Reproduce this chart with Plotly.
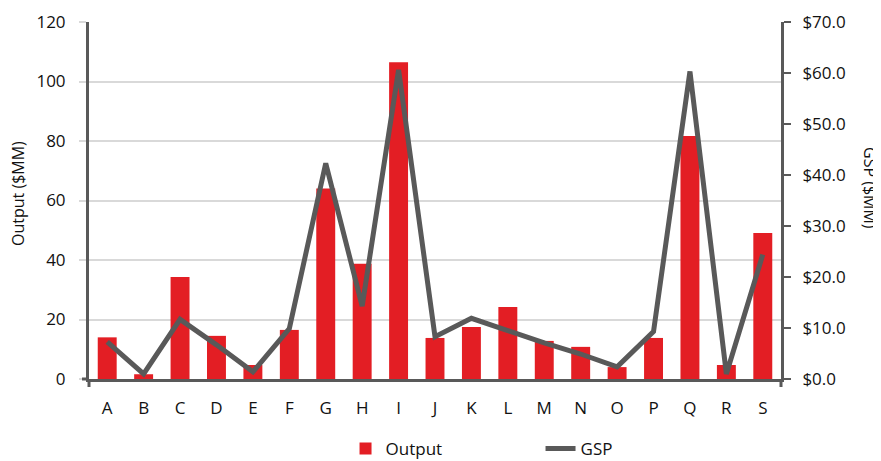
import plotly.graph_objects as go

categories = ["A","B","C","D","E","F","G","H","I","J","K","L","M","N","O","P","Q","R","S"]
output_vals = [14.0, 1.6, 34.3, 14.5, 4.7, 16.5, 64.0, 38.7, 106.5, 13.8, 17.5, 24.2, 12.8, 10.8, 4.0, 13.8, 81.7, 4.7, 49.1]
gsp_vals = [7.3, 1.0, 11.7, 6.7, 1.4, 9.9, 42.3, 14.3, 60.6, 8.3, 11.9, 9.4, 7.1, 4.9, 2.4, 9.3, 60.3, 1.0, 24.4]
left_ticks = [0, 20, 40, 60, 80, 100, 120]
right_ticks = [0, 10, 20, 30, 40, 50, 60, 70]
right_tick_text = ["$%.1f" % v for v in right_ticks]

RED = "#E31E24"
DARK = "#595959"
GRID = "#D9D9D9"
FONT = "Open Sans"
FS = 17

# page body has an 8px margin, so the figure is sized to fit the window
W, H = 873, 453

fig = go.Figure()
fig.add_trace(go.Bar(x=categories, y=output_vals, name="Output", marker_color=RED,
                     marker_line_width=0, yaxis="y"))
fig.add_trace(go.Scatter(x=categories, y=gsp_vals, name="GSP", mode="lines",
                         line=dict(color=DARK, width=5), yaxis="y2"))

fig.update_layout(
    width=W, height=H,
    margin=dict(l=81, r=100, t=14, b=82, autoexpand=False),
    plot_bgcolor="white", paper_bgcolor="white",
    font=dict(family=FONT, size=FS, color="#111111"),
    bargap=0.48,
    showlegend=True,
    legend=dict(orientation="h", x=0.61, xanchor="center", xref="container",
                y=1 - 441 / H, yanchor="middle", yref="container",
                entrywidth=150, font=dict(size=FS, family=FONT)),
    xaxis=dict(type="category", showline=True, linecolor=DARK, linewidth=3,
               ticks="outside", ticklen=12, tickcolor="rgba(0,0,0,0)",
               showgrid=False, tickfont=dict(size=FS)),
    yaxis=dict(range=[0, 120], tickvals=left_ticks, showline=True, linecolor=DARK,
               linewidth=3, showgrid=True, gridcolor=GRID, gridwidth=2,
               ticks="outside", ticklen=7, tickcolor=GRID, tickwidth=2,
               ticklabelstandoff=10, zeroline=False, tickfont=dict(size=FS)),
    yaxis2=dict(range=[0, 70], tickvals=right_ticks, ticktext=right_tick_text,
                overlaying="y", side="right", showline=True, linecolor=DARK,
                linewidth=3, showgrid=False, ticks="outside", ticklen=7,
                tickcolor=DARK, tickwidth=2, ticklabelstandoff=8, zeroline=False,
                tickfont=dict(size=FS)),
    annotations=[
        dict(text="Output ($MM)", xref="paper", yref="paper", x=(18 - 89) / 692,
             y=(379 - 194) / 357, showarrow=False, textangle=-90,
             font=dict(size=16, family=FONT, color="#111111"),
             xanchor="center", yanchor="middle"),
        dict(text="GSP ($MM)", xref="paper", yref="paper", x=(870 - 89) / 692,
             y=(379 - 188) / 357, showarrow=False, textangle=90,
             font=dict(size=16, family=FONT, color="#111111"),
             xanchor="center", yanchor="middle"),
    ],
    shapes=[
        dict(type="line", xref="paper", yref="paper", x0=0, x1=0, y0=0, y1=-8 / 357,
             line=dict(color=DARK, width=3)),
        dict(type="line", xref="paper", yref="paper", x0=1, x1=1, y0=0, y1=-8 / 357,
             line=dict(color=DARK, width=3)),
        dict(type="line", xref="paper", yref="paper", x0=-7 / 692, x1=0, y0=0, y1=0,
             line=dict(color=DARK, width=3)),
    ],
)

fig.write_html("out.html")
